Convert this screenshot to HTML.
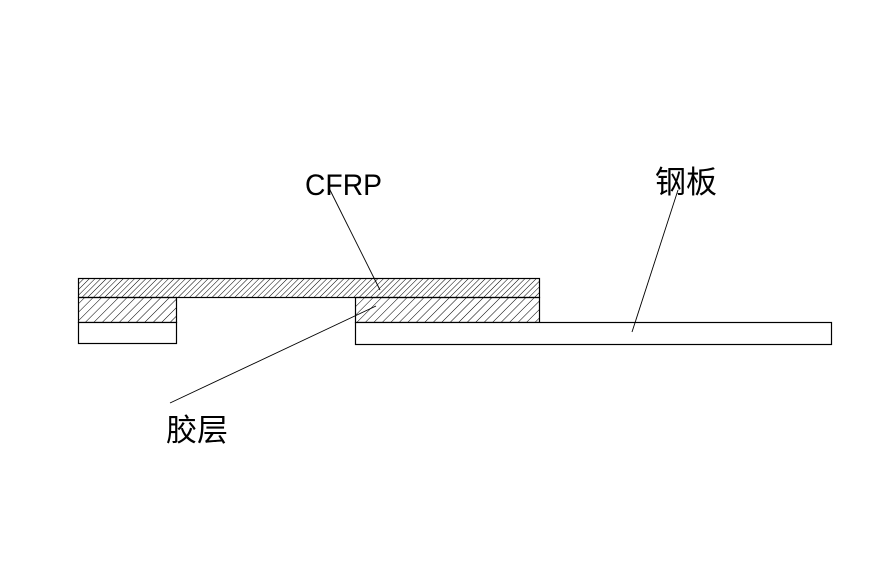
<!DOCTYPE html>
<html><head><meta charset="utf-8"><style>
html,body{margin:0;padding:0;background:#fff;}
svg{display:block}
</style></head><body>
<svg width="879" height="576" viewBox="0 0 879 576" xmlns="http://www.w3.org/2000/svg">
<defs>
<pattern id="h1" patternUnits="userSpaceOnUse" width="4" height="4" patternTransform="rotate(45)">
<line x1="0" y1="0" x2="0" y2="4" stroke="#000" stroke-width="1"/>
</pattern>
<pattern id="h2" patternUnits="userSpaceOnUse" width="6" height="6" patternTransform="rotate(45)">
<line x1="0" y1="0" x2="0" y2="6" stroke="#000" stroke-width="1"/>
</pattern>
</defs>
<g stroke="#000" stroke-width="1.2">
<rect x="78.5" y="278.5" width="461" height="19" fill="url(#h1)"/>
<rect x="78.5" y="297.5" width="98" height="25" fill="url(#h2)"/>
<rect x="355.5" y="297.5" width="184" height="25" fill="url(#h2)"/>
<rect x="78.5" y="322.5" width="98" height="21" fill="#fff"/>
<rect x="355.5" y="322.5" width="476" height="22" fill="#fff"/>
</g>
<g stroke="#000" stroke-width="0.9">
<line x1="329" y1="188" x2="380" y2="290"/>
<line x1="678" y1="190" x2="632" y2="332"/>
<line x1="170" y1="403" x2="376" y2="306"/>
</g>
<g font-family="Liberation Sans, Noto Sans CJK SC, sans-serif" fill="#000">
<text x="305" y="195" font-size="30" textLength="77" lengthAdjust="spacingAndGlyphs">CFRP</text>
<text x="655" y="193" font-size="31" font-family="Noto Sans CJK SC, sans-serif">钢板</text>
<text x="166" y="441" font-size="31" font-family="Noto Sans CJK SC, sans-serif">胶层</text>
</g>
</svg>
</body></html>
